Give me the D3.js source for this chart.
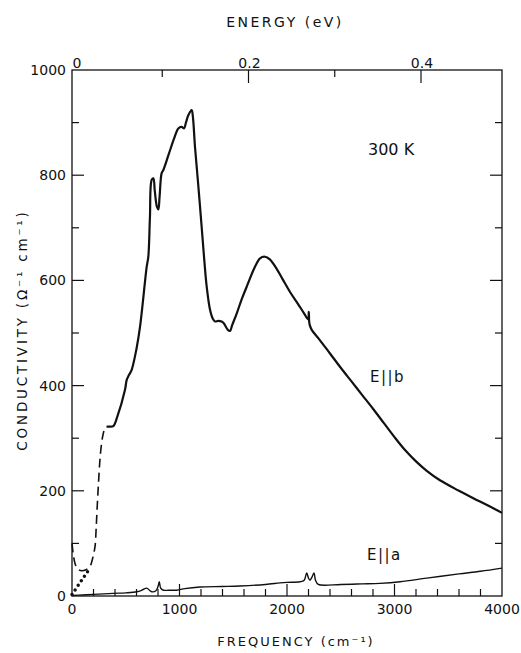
<!DOCTYPE html>
<html>
<head>
<meta charset="utf-8">
<script src="https://cdn.jsdelivr.net/npm/d3@7"></script>
<style>
  html, body { margin: 0; padding: 0; background: #fff; }
  text { font-family: "DejaVu Sans", sans-serif; fill: #111; }
</style>
</head>
<body>
<svg id="chart" width="521" height="653"></svg>
<script>
// ---- Data (frequency in cm^-1, conductivity in ohm^-1 cm^-1) ----
const ebSolidFreq = [322,347,384,420,493,509,530,555,600,633,695,710,725,741,757,770,790,803,815,834,850,900,950,989,1020,1042,1060,1082,1113,1125,1144,1175,1206,1230,1253,1284,1310,1330,1360,1392,1410,1423,1450,1470,1490,1532,1580,1625,1700,1749,1795,1840,1904,1960,2028,2100,2160,2196,2203,2206,2212,2230,2300,2400,2500,2600,2700,2800,2900,3000,3100,3200,3300,3423,3600,3733,3870,4000];
const ebSolidSigma = [322,322,323,340,392,411,420,430,470,512,626,645,720,791,794,770,740,735,760,804,810,840,870,889,892,889,900,914,924,910,854,780,702,640,588,544,527,522,523,522,519,515,506,504,515,537,565,588,625,642,645,640,622,602,578,556,537,526,540,522,515,506,488,461,434,408,382,356,329,302,277,256,238,220,200,186,172,158];

const ebDashFreq  = [0,10,28,50,90,130,167,190,214,225,236,248,260,275,291,310,322];
const ebDashSigma = [100,82,62,52,48,50,56,70,94,130,176,220,259,290,309,320,322];

const ebDotFreq  = [0,167];
const ebDotSigma = [3,53];

const eaFreq  = [0,100,200,384,500,602,650,695,720,741,780,800,812,825,850,900,974,1050,1191,1400,1563,1800,1935,2000,2121,2160,2183,2200,2214,2232,2251,2265,2291,2500,2700,2865,3051,3300,3600,3800,4000];
const eaSigma = [1,2,3,5,6,8,11,15,11,8,10,18,27,15,11,11,11,14,17,18,19,22,25,26,27,30,44,34,30,36,44,30,22,22,23,24,27,34,42,47,53];

const yTickValues = [0,200,400,600,800,1000];
const xTickValues = [0,1000,2000,3000,4000];
const eTickValues = [0,0.2,0.4];

// ---- Layout ----
const svg = d3.select("#chart");
const margin = {left: 72, top: 70, right: 19, bottom: 57};
const W = 521 - margin.left - margin.right;
const H = 653 - margin.top - margin.bottom;

const x = d3.scaleLinear().domain([0, 4000]).range([0, W]);
const y = d3.scaleLinear().domain([0, 1000]).range([H, 0]);
const e = d3.scaleLinear().domain([0, 0.4]).range([4, 349]);

const g = svg.append("g").attr("transform", `translate(${margin.left},${margin.top})`);

// frame
g.append("rect").attr("x", 0).attr("y", 0).attr("width", W).attr("height", H)
  .attr("fill", "none").attr("stroke", "#111").attr("stroke-width", 1.3);

// ticks
const tickG = g.append("g").attr("stroke", "#111").attr("stroke-width", 1.2);
d3.range(100, 1000, 100).forEach(v => {
  const major = v % 200 === 0;
  const L = major ? 12 : 7;
  tickG.append("line").attr("x1", 0).attr("x2", L).attr("y1", y(v)).attr("y2", y(v));
  tickG.append("line").attr("x1", W).attr("x2", W - L).attr("y1", y(v)).attr("y2", y(v));
});
d3.range(200, 4000, 200).forEach(v => {
  const major = v % 1000 === 0;
  const L = major ? 12 : 7;
  tickG.append("line").attr("x1", x(v)).attr("x2", x(v)).attr("y1", H).attr("y2", H - L);
});
[0.1,0.2,0.3,0.4].forEach((v, i) => {
  const L = (i % 2 === 1) ? 13 : 7;
  tickG.append("line").attr("x1", e(v)).attr("x2", e(v)).attr("y1", 0).attr("y2", L);
});

// tick labels
g.selectAll(".ylab").data(yTickValues).enter().append("text")
  .attr("x", -6).attr("y", d => y(d) + 5).attr("text-anchor", "end")
  .attr("font-size", 14).text(d => d);
g.selectAll(".xlab").data(xTickValues).enter().append("text")
  .attr("x", d => x(d)).attr("y", H + 18).attr("text-anchor", "middle")
  .attr("font-size", 14).text(d => d);
g.selectAll(".elab").data(eTickValues).enter().append("text")
  .attr("x", d => e(d) + 1).attr("y", -2).attr("text-anchor", "middle")
  .attr("font-size", 14).text(d => d === 0 ? "0" : d.toFixed(1));

// axis titles
svg.append("text").attr("x", 285).attr("y", 27).attr("text-anchor", "middle")
  .attr("font-size", 14).attr("letter-spacing", 2.5).text("ENERGY (eV)");
svg.append("text").attr("x", 296).attr("y", 646).attr("text-anchor", "middle")
  .attr("font-size", 13).attr("letter-spacing", 2).text("FREQUENCY (cm⁻¹)");
svg.append("text").attr("transform", "translate(27,330) rotate(-90)")
  .attr("text-anchor", "middle").attr("font-size", 13.5).attr("letter-spacing", 2.8)
  .text("CONDUCTIVITY (Ω⁻¹ cm⁻¹)");

// curves
const line = d3.line().x(d => x(d[0])).y(d => y(d[1])).curve(d3.curveCatmullRom.alpha(0.5));
const zip = (a, b) => a.map((v, i) => [v, b[i]]);

g.append("path").datum(zip(ebSolidFreq, ebSolidSigma)).attr("d", line)
  .attr("fill", "none").attr("stroke", "#111").attr("stroke-width", 2.2).attr("stroke-linejoin", "round");
g.append("path").datum(zip(ebDashFreq, ebDashSigma)).attr("d", line)
  .attr("fill", "none").attr("stroke", "#111").attr("stroke-width", 1.6).attr("stroke-dasharray", "9 5");
g.append("path").datum(zip(ebDotFreq, ebDotSigma)).attr("d", d3.line().x(d => x(d[0])).y(d => y(d[1])))
  .attr("fill", "none").attr("stroke", "#111").attr("stroke-width", 3.5)
  .attr("stroke-linecap", "round").attr("stroke-dasharray", "0 5.5");
g.append("path").datum(zip(eaFreq, eaSigma)).attr("d", line)
  .attr("fill", "none").attr("stroke", "#111").attr("stroke-width", 1.4).attr("stroke-linejoin", "round");

// annotations
svg.append("text").attr("x", 368).attr("y", 155).attr("font-size", 16).text("300 K");
svg.append("text").attr("x", 370).attr("y", 382).attr("font-size", 15).attr("letter-spacing", 1.5).text("E||b");
svg.append("text").attr("x", 367).attr("y", 560).attr("font-size", 15).attr("letter-spacing", 1.5).text("E||a");
</script>
</body>
</html>
